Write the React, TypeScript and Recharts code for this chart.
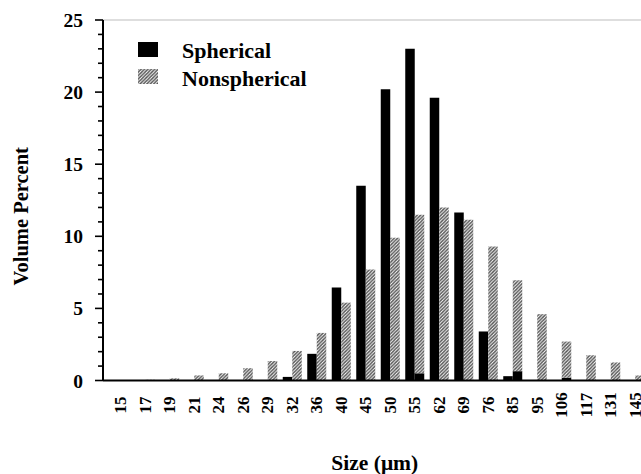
import { Bar, BarChart, Label, Legend, ReferenceLine, XAxis, YAxis } from 'recharts'

// particle size classes (µm)
const sizes = ['15', '17', '19', '21', '24', '26', '29', '32', '36', '40', '45', '50', '55', '62', '69', '76', '85', '95', '106', '117', '131', '145']

// volume percent per size class
const spherical = [0, 0, 0, 0, 0, 0, 0, 0.25, 1.85, 6.45, 13.5, 20.2, 23.0, 19.6, 11.65, 3.4, 0.3, 0, 0, 0, 0, 0]
const nonspherical = [0, 0.05, 0.15, 0.35, 0.5, 0.85, 1.35, 2.05, 3.3, 5.4, 7.7, 9.9, 11.5, 12.0, 11.15, 9.3, 6.95, 4.6, 2.7, 1.75, 1.25, 0.35]
// solid slivers printed at the foot of some nonspherical bars
const nonsphericalSolid = [0, 0, 0, 0, 0, 0, 0, 0, 0, 0, 0, 0, 0.5, 0, 0, 0, 0.65, 0, 0.2, 0, 0, 0]

const seriesOrder = ['Spherical', 'Nonspherical']

const yTicks = [0, 1, 2, 3, 4, 5, 6, 7, 8, 9, 10, 11, 12, 13, 14, 15, 16, 17, 18, 19, 20, 21, 22, 23, 24, 25]

const data = sizes.map((size, i) => ({
  size,
  spherical: spherical[i],
  solid: nonsphericalSolid[i],
  hatched: nonspherical[i] - nonsphericalSolid[i],
}))

const FONT = "'Liberation Serif', 'Times New Roman', serif"

const SizeTick = ({ x, y, payload }: any) => {
  const tx = x + 5.5
  const ty = y + 24.5
  return (
    <text x={tx} y={ty} transform={`rotate(-90, ${tx}, ${ty})`} textAnchor="middle"
      fontFamily={FONT} fontWeight="bold" fontSize={17} fill="#000">
      {payload.value}
    </text>
  )
}

const PercentTick = ({ x, y, payload }: any) => {
  const major = payload.value % 5 === 0
  return (
    <g>
      <line x1={x - (major ? 8 : 5)} x2={x} y1={y} y2={y} stroke="#000" strokeWidth={1.6} />
      {major && (
        <text x={x - 20} y={y + 7} textAnchor="end" fontFamily={FONT} fontWeight="bold" fontSize={19.5} fill="#000">
          {payload.value}
        </text>
      )}
    </g>
  )
}

const YTitle = ({ viewBox }: any) => {
  const x = 28
  const y = viewBox.y + viewBox.height / 2 + 16
  return (
    <text x={x} y={y} transform={`rotate(-90, ${x}, ${y})`} textAnchor="middle"
      fontFamily={FONT} fontWeight="bold" fontSize={20.5} fill="#000">
      Volume Percent
    </text>
  )
}

const XTitle = ({ viewBox }: any) => (
  <text x={viewBox.x + viewBox.width / 2 - 3} y={470} textAnchor="middle"
    fontFamily={FONT} fontWeight="bold" fontSize={21.5} fill="#000">
    Size (μm)
  </text>
)

const LegendBox = ({ payload }: any) => {
  const items = (payload || [])
    .filter((p: any) => seriesOrder.includes(p.value))
    .sort((a: any, b: any) => seriesOrder.indexOf(a.value) - seriesOrder.indexOf(b.value))
  return (
    <svg width={220} height={62} style={{ display: 'block' }}>
      {items.map((p: any, i: number) => (
        <g key={p.value}>
          <rect x={3} y={4 + i * 27} width={20} height={15} fill={p.payload?.fill ?? p.color} />
          <text x={47} y={20 + i * 28} fontFamily={FONT} fontWeight="bold" fontSize={22} fill="#000">
            {p.value}
          </text>
        </g>
      ))}
    </svg>
  )
}

export default function App() {
  return (
    <div style={{ position: 'fixed', left: 0, top: 0, width: 641, height: 474, overflow: 'hidden', background: '#fff' }}>
      <BarChart width={660} height={474} data={data} barGap={0} barSize={9.5}
        margin={{ top: 20, right: 7.5, left: 0, bottom: 0 }}>
        <defs>
          <pattern id="hatch" patternUnits="userSpaceOnUse" width={3.4} height={3.4}>
            <rect width={3.4} height={3.4} fill="#fff" />
            <path d="M0,3.4 L3.4,0 M-1,1 L1,-1 M2.4,4.4 L4.4,2.4" stroke="#555" strokeWidth={1.4} />
          </pattern>
        </defs>
        <ReferenceLine y={25} stroke="#bdbdbd" strokeWidth={1} />
        <XAxis dataKey="size" interval={0} height={93.5} padding={{ left: 5.25, right: 5.25 }}
          axisLine={{ stroke: '#000', strokeWidth: 2 }} tickLine={false} tickSize={0} tickMargin={0} tick={<SizeTick />}>
          <Label content={<XTitle />} />
        </XAxis>
        <YAxis type="number" domain={[0, 25]} ticks={yTicks} interval={0} width={103}
          axisLine={{ stroke: '#000', strokeWidth: 2 }} tickLine={false} tickSize={0} tickMargin={0} tick={<PercentTick />}>
          <Label content={<YTitle />} />
        </YAxis>
        <Legend layout="vertical" align="center" verticalAlign="middle" content={<LegendBox />}
          wrapperStyle={{ left: 135, top: 38, width: 220, height: 62 }} />
        <Bar dataKey="spherical" stackId="sp" name="Spherical" fill="#000" isAnimationActive={false} />
        <Bar dataKey="solid" stackId="ns" name="solid" fill="#000" legendType="none" isAnimationActive={false} />
        <Bar dataKey="hatched" stackId="ns" name="Nonspherical" fill="url(#hatch)" isAnimationActive={false} />
      </BarChart>
    </div>
  )
}
